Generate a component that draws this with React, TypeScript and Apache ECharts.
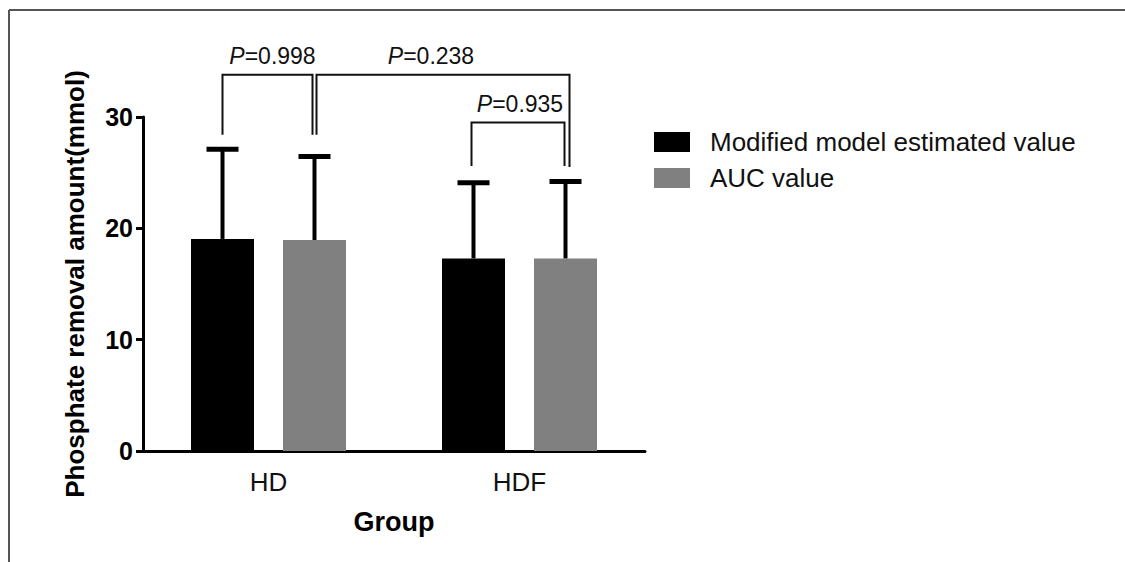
import React, { useEffect, useRef } from "react";
import * as echarts from "echarts";

const categories = ["HD", "HDF"];
const seriesNames = ["Modified model estimated value", "AUC value"];
const modifiedMean = [19.05, 17.3];
const modifiedSD = [8.05, 6.8];
const aucMean = [18.95, 17.3];
const aucSD = [7.5, 6.9];
const yTicks = [0, 10, 20, 30];

// significance brackets (category index, series side -1/+1, data values)
const bracketP = ["0.998", "0.238", "0.935"];
const bracketLeftCat = [0, 0, 1];
const bracketLeftSide = [-1, 1, -1];
const bracketRightCat = [0, 1, 1];
const bracketRightSide = [1, 1, 1];
const bracketLeftBottom = [28.4, 28.4, 25.6];
const bracketRightBottom = [28.4, 25.5, 25.6];
const bracketTop = [33.8, 33.8, 29.5];

const FONT = "Liberation Sans, Arial, Helvetica, sans-serif";
const BAR_W = 63;
const GAP_PX = 29;
const OFFSET = (BAR_W + GAP_PX) / 2;
const leftNudge = [0, 2, -2];
const rightNudge = [-2, 4, -1];
const labelNudge = [5, -12, 2];

function errorSeries(means: number[], sds: number[], side: number) {
  return {
    type: "custom",
    silent: true,
    z: 5,
    data: means.map((m, i) => [i, m, m + sds[i]]),
    encode: { x: 0, y: [1, 2] },
    renderItem: (params: any, api: any) => {
      const base = api.coord([api.value(0), api.value(1)]);
      const top = api.coord([api.value(0), api.value(2)]);
      const x = base[0] + side * OFFSET;
      const st = { stroke: "#000", lineWidth: 4 };
      return {
        type: "group",
        children: [
          { type: "line", shape: { x1: x, y1: base[1], x2: x, y2: top[1] }, style: st },
          { type: "line", shape: { x1: x - 16, y1: top[1], x2: x + 16, y2: top[1] }, style: { stroke: "#000", lineWidth: 5 } },
        ],
      };
    },
  };
}

export default function App() {
  const ref = useRef<HTMLDivElement>(null);
  useEffect(() => {
    document.body.style.margin = "0";
    const chart = echarts.init(ref.current!, null, { renderer: "svg" });
    const option: any = {
      animation: false,
      backgroundColor: "#fff",
      grid: { left: 143, right: 480, top: 117, bottom: 111 },
      legend: {
        orient: "vertical",
        left: 649,
        top: 124,
        itemWidth: 36,
        itemHeight: 20,
        itemGap: 10,
        icon: "rect",
        data: seriesNames,
        textStyle: { fontSize: 26, fontFamily: FONT, color: "#111", padding: [0, 0, 0, 15] },
      },
      xAxis: {
        type: "category",
        data: categories,
        name: "Group",
        nameLocation: "middle",
        nameGap: 57,
        nameTextStyle: { fontSize: 27, fontWeight: "bold", fontFamily: FONT, color: "#000" },
        axisLine: { lineStyle: { color: "#000", width: 3 } },
        axisTick: { alignWithLabel: true, length: 8, lineStyle: { color: "#000", width: 3 } },
        axisLabel: { fontSize: 26, fontFamily: FONT, color: "#111", margin: 18 },
      },
      yAxis: {
        type: "value",
        min: yTicks[0],
        max: yTicks[yTicks.length - 1],
        interval: 10,
        name: "Phosphate removal amount(mmol)",
        nameLocation: "middle",
        nameGap: 55,
        nameTextStyle: { fontSize: 26, fontWeight: "bold", fontFamily: FONT, color: "#000" },
        axisLine: { show: true, lineStyle: { color: "#000", width: 3 } },
        axisTick: { show: true, length: 7, lineStyle: { color: "#000", width: 3 } },
        axisLabel: { fontSize: 25, fontWeight: "bold", fontFamily: FONT, color: "#000", margin: 10 },
        splitLine: { show: false },
      },
      series: [
        {
          name: seriesNames[0],
          type: "bar",
          data: modifiedMean,
          barWidth: BAR_W,
          barGap: (GAP_PX / BAR_W) * 100 + "%",
          itemStyle: { color: "#000" },
        },
        {
          name: seriesNames[1],
          type: "bar",
          data: aucMean,
          barWidth: BAR_W,
          barGap: (GAP_PX / BAR_W) * 100 + "%",
          itemStyle: { color: "#808080" },
        },
        errorSeries(modifiedMean, modifiedSD, -1),
        errorSeries(aucMean, aucSD, 1),
        {
          type: "custom",
          silent: true,
          z: 6,
          clip: false,
          data: bracketP.map((_, i) => [bracketLeftCat[i], bracketTop[i] > 30 ? 30 : bracketTop[i]]),
          renderItem: (params: any, api: any) => {
            const i = params.dataIndex;
            const lb = api.coord([bracketLeftCat[i], bracketLeftBottom[i]]);
            const rb = api.coord([bracketRightCat[i], bracketRightBottom[i]]);
            const yTop = api.coord([bracketLeftCat[i], bracketTop[i]])[1];
            const xl = lb[0] + bracketLeftSide[i] * OFFSET + leftNudge[i];
            const xr = rb[0] + bracketRightSide[i] * OFFSET + rightNudge[i];
            return {
              type: "group",
              children: [
                {
                  type: "polyline",
                  shape: { points: [[xl, lb[1]], [xl, yTop], [xr, yTop], [xr, rb[1]]] },
                  style: { stroke: "#111", lineWidth: 2, fill: null },
                },
                {
                  type: "text",
                  x: (xl + xr) / 2 + labelNudge[i],
                  y: yTop - 7,
                  style: {
                    text: "{i|P}=" + bracketP[i],
                    fontSize: 23,
                    fontFamily: FONT,
                    fill: "#111",
                    align: "center",
                    verticalAlign: "bottom",
                    rich: {
                      i: { fontStyle: "italic", fontSize: 23, fontFamily: FONT, fill: "#111" },
                    },
                  },
                },
              ],
            };
          },
        },
      ],
      graphic: [
        { type: "line", shape: { x1: 9, y1: 10, x2: 1125, y2: 10 }, style: { stroke: "#555", lineWidth: 2 } },
        { type: "line", shape: { x1: 9, y1: 10, x2: 9, y2: 562 }, style: { stroke: "#555", lineWidth: 2 } },
      ],
    };
    chart.setOption(option);
    return () => chart.dispose();
  }, []);
  return <div ref={ref} style={{ width: 1125, height: 562 }} />;
}
